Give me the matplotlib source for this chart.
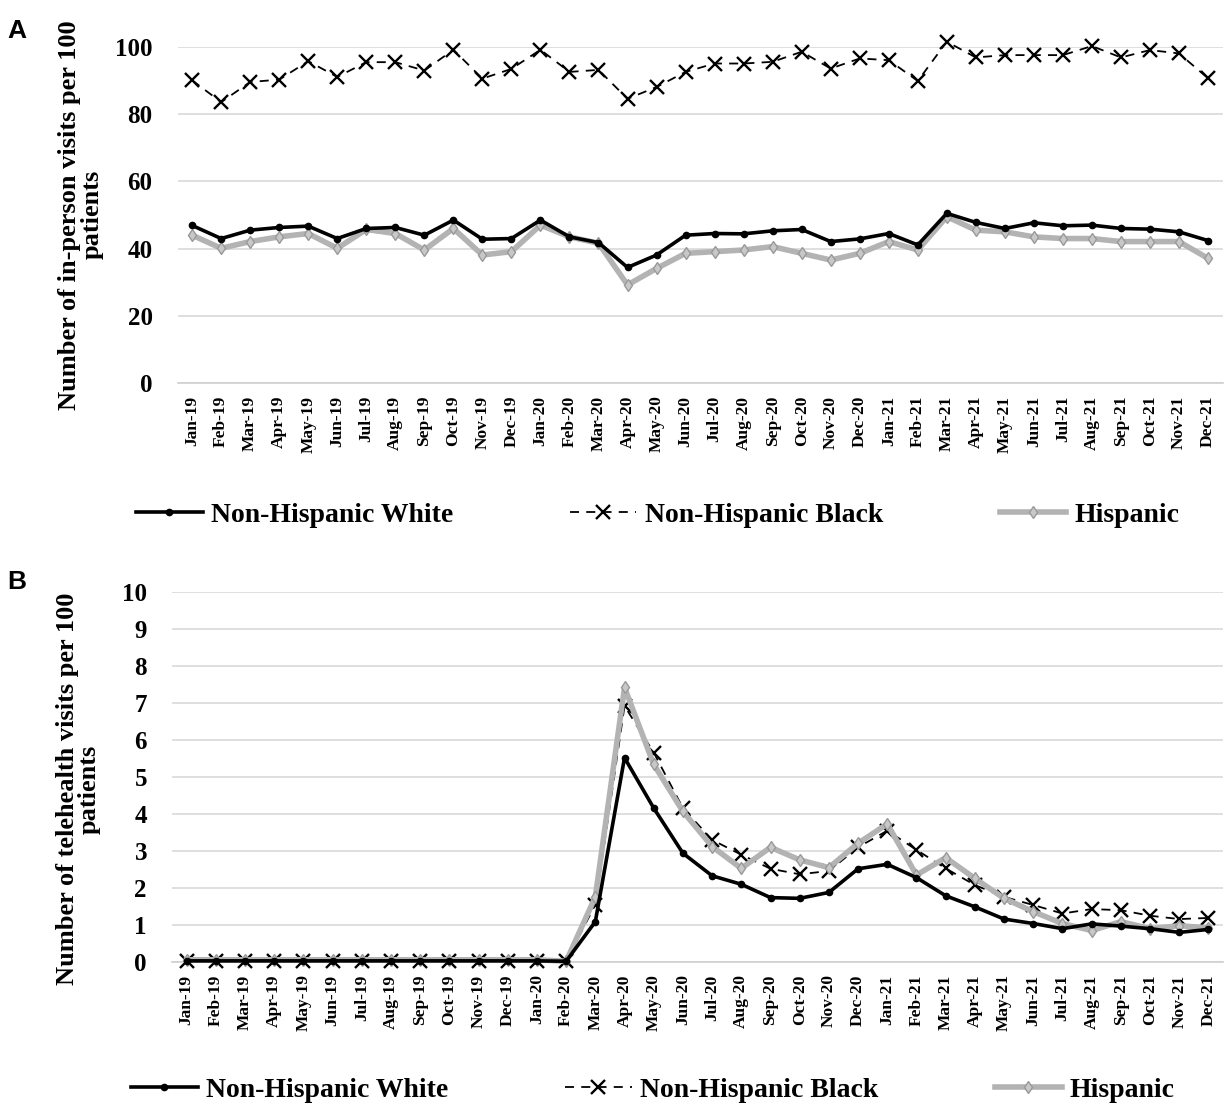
import matplotlib
matplotlib.use("Agg")
import matplotlib.pyplot as plt
from matplotlib.lines import Line2D

months = ["Jan-19", "Feb-19", "Mar-19", "Apr-19", "May-19", "Jun-19", "Jul-19", "Aug-19",
          "Sep-19", "Oct-19", "Nov-19", "Dec-19", "Jan-20", "Feb-20", "Mar-20", "Apr-20",
          "May-20", "Jun-20", "Jul-20", "Aug-20", "Sep-20", "Oct-20", "Nov-20", "Dec-20",
          "Jan-21", "Feb-21", "Mar-21", "Apr-21", "May-21", "Jun-21", "Jul-21", "Aug-21",
          "Sep-21", "Oct-21", "Nov-21", "Dec-21"]

# Panel A: in-person visits per 100 patients
inperson_white = [46.9, 43.0, 45.5, 46.3, 46.7, 43.0, 46.0, 46.3, 44.0, 48.5, 42.8, 43.0,
                  48.5, 43.5, 41.8, 34.4, 38.1, 44.0, 44.5, 44.4, 45.3, 45.7, 42.1, 42.9,
                  44.5, 41.1, 50.5, 47.8, 46.0, 47.7, 46.8, 47.0, 46.0, 45.8, 45.0, 42.4]
inperson_black = [90.1, 83.6, 89.6, 90.3, 95.8, 91.1, 95.5, 95.5, 93.0, 99.2, 90.6, 93.5,
                  99.2, 92.6, 93.2, 84.6, 88.1, 92.6, 95.1, 95.1, 95.6, 98.6, 93.6, 96.6,
                  96.1, 89.9, 101.6, 96.9, 97.6, 97.6, 97.6, 100.3, 96.9, 99.1, 98.1, 90.7]
inperson_hisp = [44.0, 40.1, 42.1, 43.5, 44.5, 40.1, 45.7, 44.5, 39.6, 46.0, 38.1, 39.1,
                 47.0, 43.5, 41.6, 29.2, 34.1, 38.6, 39.1, 39.6, 40.6, 38.6, 36.6, 38.6,
                 42.1, 39.6, 49.5, 45.5, 45.0, 43.5, 43.0, 43.0, 42.1, 42.1, 42.1, 37.1]

# Panel B: telehealth visits per 100 patients
tele_white = [0.03, 0.03, 0.03, 0.03, 0.03, 0.03, 0.03, 0.03, 0.03, 0.03, 0.03, 0.03,
              0.03, 0.02, 1.09, 5.52, 4.16, 2.94, 2.33, 2.10, 1.74, 1.72, 1.88, 2.52,
              2.64, 2.28, 1.79, 1.49, 1.16, 1.04, 0.90, 1.03, 0.97, 0.90, 0.80, 0.88]
tele_black = [0.04, 0.04, 0.04, 0.04, 0.04, 0.04, 0.04, 0.04, 0.04, 0.04, 0.04, 0.04,
              0.04, 0.02, 1.55, 6.92, 5.66, 4.16, 3.30, 2.90, 2.52, 2.37, 2.46, 3.10,
              3.55, 3.03, 2.53, 2.08, 1.76, 1.54, 1.31, 1.43, 1.40, 1.25, 1.16, 1.19]
tele_hisp = [0.06, 0.06, 0.06, 0.06, 0.06, 0.06, 0.06, 0.06, 0.06, 0.06, 0.06, 0.06,
             0.06, 0.02, 1.76, 7.42, 5.34, 4.07, 3.12, 2.53, 3.10, 2.76, 2.55, 3.21,
             3.73, 2.35, 2.82, 2.26, 1.72, 1.36, 1.04, 0.85, 1.09, 0.90, 0.98, 0.92]

groups = ["Non-Hispanic White", "Non-Hispanic Black", "Hispanic"]

SERIF = "Liberation Serif"
x = list(range(len(months)))

white_style = dict(color="black", lw=2.6, marker="o", ms=4.5, zorder=4, clip_on=False)
black_style = dict(color="black", lw=1.3, marker="x", ms=10, mew=1.7,
                   linestyle=(0, (5, 4)), zorder=2, clip_on=False)
hisp_style = dict(color="#b3b3b3", lw=4, marker="d", ms=6, mfc="#c8c8c8",
                  mec="#999999", zorder=3, clip_on=False)

fig = plt.figure(figsize=(12.25, 11.07), dpi=100)
axA = fig.add_axes([0.145, 0.654, 0.853, 0.3035])
axB = fig.add_axes([0.1404, 0.131, 0.858, 0.3342])


def style_axis(ax, ymax, step):
    ax.set_xlim(-0.5, len(months) - 0.5)
    ax.set_ylim(0, ymax)
    ax.set_yticks(range(0, ymax + 1, step))
    ax.set_xticks(x)
    ax.set_xticklabels(months, rotation=90, fontfamily=SERIF, fontweight="bold",
                       fontsize=12.5)
    for lab in ax.get_yticklabels():
        lab.set_fontfamily(SERIF)
        lab.set_fontweight("bold")
        lab.set_fontsize(18)
    ax.tick_params(axis="y", length=0, pad=18)
    ax.tick_params(axis="x", length=0, pad=9)
    ax.grid(axis="y", color="#d9d9d9", lw=1.2)
    ax.set_axisbelow(True)
    for side in ["top", "right", "left"]:
        ax.spines[side].set_visible(False)
    ax.spines["bottom"].set_color("#cfcfcf")
    ax.spines["bottom"].set_linewidth(1.2)


# Panel A
axA.plot(x, inperson_black, **black_style)
axA.plot(x, inperson_hisp, **hisp_style)
axA.plot(x, inperson_white, **white_style)
style_axis(axA, 100, 20)

# Panel B
axB.plot(x, tele_black, **black_style)
axB.plot(x, tele_hisp, **hisp_style)
axB.plot(x, tele_white, **white_style)
style_axis(axB, 10, 1)

# y labels
fig.text(0.066, 0.806, "Number of in-person visits per 100\npatients", rotation=90,
         ha="center", va="center", multialignment="center", fontfamily=SERIF,
         fontweight="bold", fontsize=19, linespacing=0.95)
fig.text(0.064, 0.287, "Number of telehealth visits per 100\npatients", rotation=90,
         ha="center", va="center", multialignment="center", fontfamily=SERIF,
         fontweight="bold", fontsize=19, linespacing=0.95)

# panel letters
fig.text(0.006, 0.972, "A", fontfamily="Liberation Sans", fontweight="bold", fontsize=19,
         va="center")
fig.text(0.006, 0.474, "B", fontfamily="Liberation Sans", fontweight="bold", fontsize=19,
         va="center")

# legends
handles = [Line2D([], [], **white_style), Line2D([], [], **black_style),
           Line2D([], [], **hisp_style)]
for ycen, xcen in [(0.5348, 0.537), (0.0154, 0.533)]:
    fig.legend(handles, groups, loc="center", bbox_to_anchor=(xcen, ycen), ncol=3,
               frameon=False, handlelength=2.4, columnspacing=4.2, handletextpad=0.3,
               prop={"family": SERIF, "weight": "bold", "size": 20})

fig.savefig("out.png", dpi=100)
